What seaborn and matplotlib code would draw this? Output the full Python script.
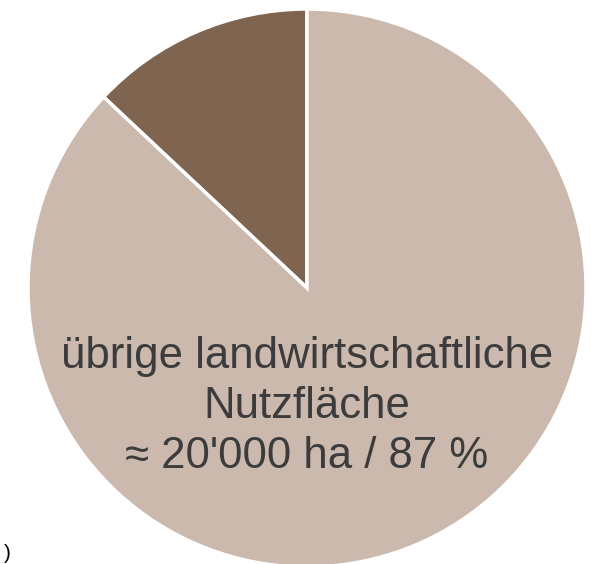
import matplotlib
matplotlib.use("Agg")
import matplotlib.pyplot as plt
import seaborn as sns

# ================= Data =================
labels = ["Fläche (13 %)", "übrige landwirtschaftliche Nutzfläche"]
shares = [13, 87]
colors = ["#7f644f", "#cbb9ad"]
label_text = "übrige landwirtschaftliche\nNutzfläche\n≈ 20'000 ha / 87 %"

sns.set_theme(style="white")
plt.rcParams['font.family'] = ['Liberation Sans', 'DejaVu Sans']

fig = plt.figure(figsize=(5.91, 5.64), dpi=100)
# pie centre at (307, 288) px, radius 279 px
cx, cy, r = 307, 288, 279
W, H = 591, 564
ax = fig.add_axes([(cx - r) / W, (H - cy - r) / H, 2 * r / W, 2 * r / H])

ax.pie(shares, colors=colors, startangle=90, counterclock=True, radius=1,
       wedgeprops=dict(edgecolor="white", linewidth=2.5))
ax.set_xlim(-1, 1)
ax.set_ylim(-1, 1)
ax.set_aspect('auto')
ax.axis('off')

ax.text(0, -0.425, label_text, ha='center', va='center', fontsize=31.5,
        color="#3c3c3c", linespacing=1.27)

# stray fragment bottom-left in the source
fig.text(4 / W, 1 / H, ")", fontsize=15, color="black", ha='left', va='bottom')

fig.savefig("out.png", dpi=100)
